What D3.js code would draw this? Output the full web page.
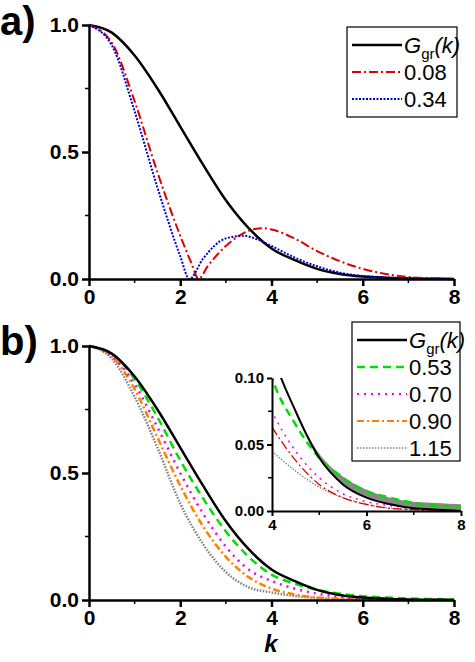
<!DOCTYPE html><html><head><meta charset="utf-8"><script src="https://cdn.jsdelivr.net/npm/d3@7"></script>
<style>body{margin:0;background:#fff}text{font-family:"Liberation Sans",Arial,sans-serif}</style></head><body><svg id="c" width="475" height="662"></svg><script>
const kA=[0,0.5,1,1.5,2,2.5,3,3.5,4,4.5,5,5.5,6,6.5,7,7.5,8];
const gGr=[1,0.97,0.88,0.75,0.6,0.45,0.31,0.2,0.12,0.075,0.04,0.02,0.01,0.005,0.002,0.001,0];
const kRed=[0,0.5,1,1.5,2,2.25,2.4,2.6,3,3.5,3.8,4,4.5,5,5.5,6,6.5,7,7.5,8];
const red08=[1,0.93,0.7,0.42,0.17,0.06,0,0.05,0.13,0.19,0.2,0.195,0.16,0.11,0.07,0.04,0.02,0.008,0.003,0];
const kBlue=[0,0.5,1,1.5,2,2.2,2.5,3,3.4,3.7,4,4.5,5,5.5,6,7,8];
const blue34=[1,0.92,0.66,0.36,0.09,0,0.08,0.16,0.17,0.155,0.13,0.085,0.05,0.025,0.012,0.003,0];
const green53=[1,0.97,0.87,0.72,0.55,0.4,0.27,0.17,0.1,0.065,0.04,0.025,0.015,0.01,0.006,0.004,0.003];
const mag70=[1,0.96,0.85,0.68,0.5,0.34,0.21,0.12,0.075,0.045,0.025,0.013,0.007,0.004,0.002,0.001,0];
const orange90=[1,0.96,0.83,0.64,0.45,0.29,0.17,0.09,0.045,0.022,0.01,0.005,0.002,0.001,0,0,0];
const gray115=[1,0.95,0.8,0.6,0.38,0.22,0.11,0.05,0.03,0.016,0.008,0.004,0.002,0.001,0,0,0];
const kIn=[4,4.5,5,5.5,6,6.5,7,7.5,8];
const redIn=[0.063,0.038,0.02,0.01,0.005,0.002,0.001,0,0];
const grayIn=[0.045,0.03,0.018,0.01,0.005,0.002,0.001,0,0];
const bandLo=[0.12,0.075,0.04,0.02,0.01,0.005,0.002,0.001,0];
const bandHi=[0.12,0.075,0.043,0.026,0.016,0.01,0.007,0.006,0.005];
const xTicks=[0,2,4,6,8], yTicks=[0,0.5,1], inXTicks=[4,6,8], inYTicks=[0,0.05,0.1];

const svg=d3.select("#c");
const line=(x,y)=>d3.line().x(d=>x(d[0])).y(d=>y(d[1])).curve(d3.curveMonotoneX);
const zip=(a,b)=>a.map((v,i)=>[v,b[i]]);
function axes(g,x,y,xt,yt,fmtY,fs,main){
  const X=g.append("g").attr("transform",`translate(0,${y.range()[0]})`).call(d3.axisBottom(x).tickValues(xt).tickFormat(d3.format("d")).tickSize(main?7:5).tickSizeOuter(0));
  const Y=g.append("g").attr("transform",`translate(${x.range()[0]},0)`).call(d3.axisLeft(y).tickValues(yt).tickFormat(fmtY).tickSize(main?7:5).tickSizeOuter(0));
  const mx=d3.range(x.domain()[0]+1,x.domain()[1],2), my=yt.slice(0,-1).map((v,i)=>(v+yt[i+1])/2);
  const m=g.append("g");
  m.selectAll(null).data(mx).enter().append("line").attr("x1",d=>x(d)).attr("x2",d=>x(d)).attr("y1",y.range()[0]).attr("y2",y.range()[0]+4).attr("stroke","#000").attr("stroke-width",1.5);
  m.selectAll(null).data(my).enter().append("line").attr("y1",d=>y(d)).attr("y2",d=>y(d)).attr("x1",x.range()[0]).attr("x2",x.range()[0]-4).attr("stroke","#000").attr("stroke-width",1.5);
  [X,Y].forEach(a=>{a.selectAll("path,line").attr("stroke","#000").attr("stroke-width",main?2.5:2);a.selectAll("text").attr("font-size",fs).attr("font-weight","bold").attr("fill","#000");});
}
const dash={red:"9,3,2,3",blue:"2,1.5",green:"8,5",mag:"2,5",orange:"7,3,2,3",gray:"1.5,1.5"};
function legend(g,x0,y0,w,h,items,step){
  g.append("rect").attr("x",x0).attr("y",y0).attr("width",w).attr("height",h).attr("fill","#fff").attr("stroke","#000").attr("stroke-width",1.2);
  items.forEach((it,i)=>{const yy=y0+18+i*step;
    g.append("line").attr("x1",x0+5).attr("x2",x0+55).attr("y1",yy).attr("y2",yy).attr("stroke",it.c).attr("stroke-width",it.w).attr("stroke-dasharray",it.d||null);
    const t=g.append("text").attr("x",x0+57).attr("y",yy+8).attr("font-size",22).attr("fill","#000");
    if(it.g){t.attr("font-family","Liberation Serif").attr("font-style","italic").text("G");t.append("tspan").attr("font-style","normal").attr("font-size",15).attr("dy",6).text("gr");t.append("tspan").attr("dy",-6).text("(k)");}
    else t.text(it.t);
  });
}
// Panel a
const xa=d3.scaleLinear([0,8],[89,454]), ya=d3.scaleLinear([0,1],[279,25]);
const ga=svg.append("g");
ga.append("path").attr("d",line(xa,ya)(zip(kA,gGr))).attr("fill","none").attr("stroke","#000").attr("stroke-width",2.5);
ga.append("path").attr("d",line(xa,ya)(zip(kRed,red08))).attr("fill","none").attr("stroke","#e00000").attr("stroke-width",2).attr("stroke-dasharray",dash.red);
ga.append("path").attr("d",line(xa,ya)(zip(kBlue,blue34))).attr("fill","none").attr("stroke","#0000cc").attr("stroke-width",2).attr("stroke-dasharray",dash.blue);
axes(ga,xa,ya,xTicks,yTicks,d3.format(".1f"),21,true);
legend(ga,347,27,110,90,[{g:1,c:"#000",w:2.5},{t:"0.08",c:"#e00000",w:2,d:dash.red},{t:"0.34",c:"#0000cc",w:2,d:dash.blue}],27);
ga.append("text").attr("x",0).attr("y",35).attr("font-size",40).attr("font-weight","bold").text("a)");
// Panel b
const xb=d3.scaleLinear([0,8],[89,454]), yb=d3.scaleLinear([0,1],[600,346]);
const gb=svg.append("g");
[[gray115,"#808080",dash.gray,2.5],[orange90,"#ff8000",dash.orange,2.5],[mag70,"#ee00ee",dash.mag,2.5],[green53,"#00dd00",dash.green,2.5]].forEach(s=>
 gb.append("path").attr("d",line(xb,yb)(zip(kA,s[0]))).attr("fill","none").attr("stroke",s[1]).attr("stroke-width",s[3]).attr("stroke-dasharray",s[2]));
gb.append("path").attr("d",line(xb,yb)(zip(kA,gGr))).attr("fill","none").attr("stroke","#000").attr("stroke-width",2.5);
axes(gb,xb,yb,xTicks,yTicks,d3.format(".1f"),21,true);
gb.append("text").attr("x",271).attr("y",652).attr("font-size",24).attr("font-style","italic").attr("font-weight","bold").attr("font-family","Liberation Serif").attr("text-anchor","middle").text("k");
gb.append("text").attr("x",0).attr("y",355).attr("font-size",40).attr("font-weight","bold").text("b)");
// inset
const xi=d3.scaleLinear([4,8],[272,461]), yi=d3.scaleLinear([0,0.1],[511,378]);
const gi=svg.append("g");
gi.append("defs").append("clipPath").attr("id","ci").append("rect").attr("x",272).attr("y",378).attr("width",189).attr("height",133);
const gc=gi.append("g").attr("clip-path","url(#ci)");
gc.append("path").attr("d",d3.area().x(d=>xi(d[0])).y0(d=>yi(d[1])).y1(d=>yi(d[2])).curve(d3.curveMonotoneX)(kIn.map((k,i)=>[k,bandLo[i],bandHi[i]]))).attr("fill","#888");
const sub=a=>kA.map((k,i)=>[k,a[i]]).filter(d=>d[0]>=3.5);
gc.append("path").attr("d",line(xi,yi)(zip(kIn,grayIn))).attr("fill","none").attr("stroke","#808080").attr("stroke-width",1.3).attr("stroke-dasharray",dash.gray);
gc.append("path").attr("d",line(xi,yi)(zip(kIn,redIn))).attr("fill","none").attr("stroke","#e00000").attr("stroke-width",1.3).attr("stroke-dasharray",dash.red);
gc.append("path").attr("d",line(xi,yi)(sub(mag70))).attr("fill","none").attr("stroke","#ee00ee").attr("stroke-width",1.5).attr("stroke-dasharray",dash.mag);
gc.append("path").attr("d",line(xi,yi)(sub(green53))).attr("fill","none").attr("stroke","#00dd00").attr("stroke-width",2.5).attr("stroke-dasharray",dash.green);
gc.append("path").attr("d",line(xi,yi)(sub(gGr))).attr("fill","none").attr("stroke","#000").attr("stroke-width",2);
axes(gi,xi,yi,inXTicks,inYTicks,d3.format(".2f"),15,false);
legend(svg,352,322,108,139,[{g:1,c:"#000",w:2.5},{t:"0.53",c:"#00dd00",w:2.5,d:dash.green},{t:"0.70",c:"#ee00ee",w:2,d:dash.mag},{t:"0.90",c:"#ff8000",w:2,d:dash.orange},{t:"1.15",c:"#808080",w:1.5,d:dash.gray}],27);
</script></body></html>
